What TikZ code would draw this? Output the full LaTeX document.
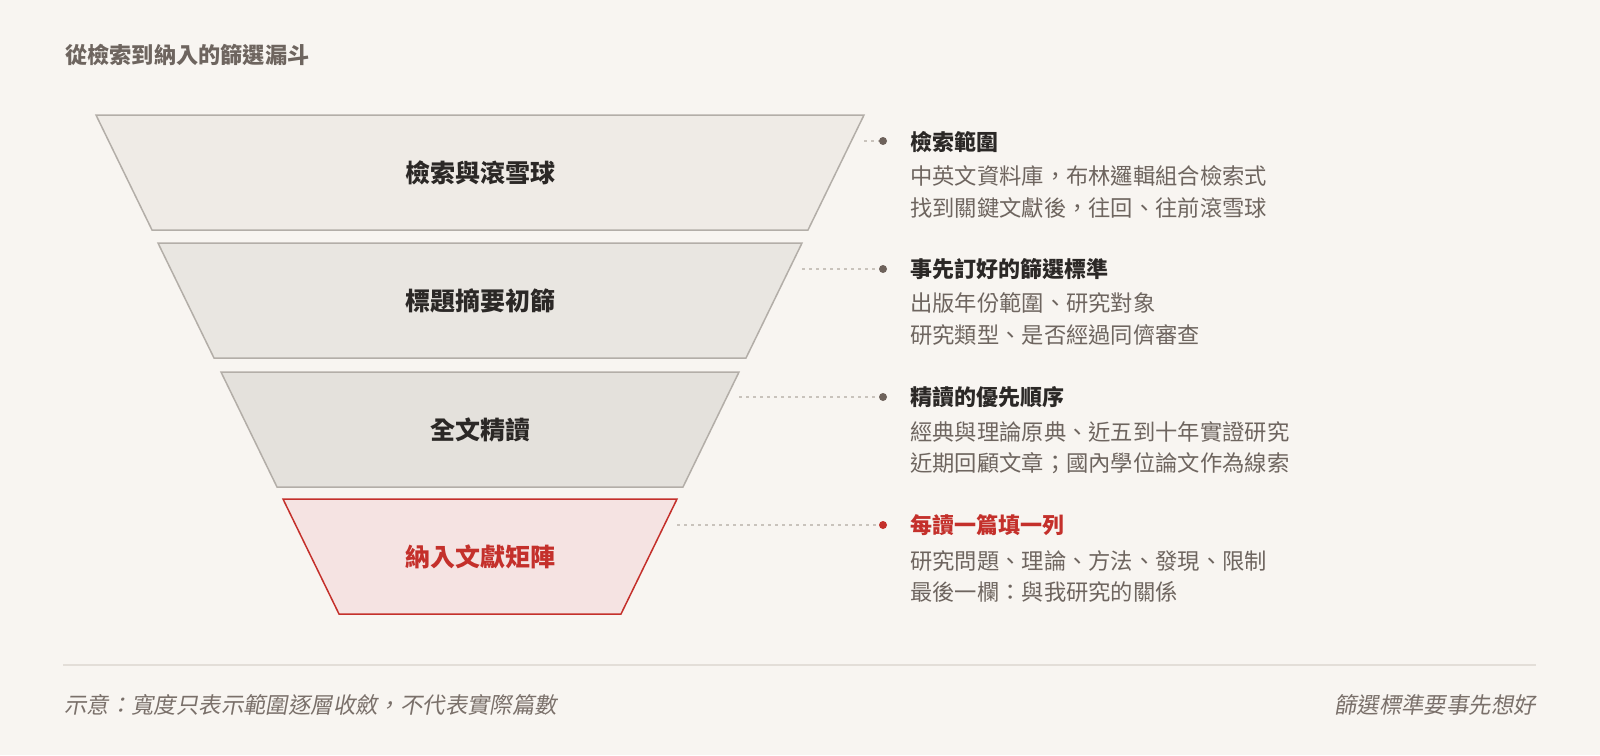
\documentclass[tikz,border=0pt]{standalone}
\usepackage{fontspec}
\setmainfont{Noto Sans CJK TC}
\newfontfamily\slantcjk{Noto Sans CJK TC}[FakeSlant=0.18]
\definecolor{bg}{HTML}{F8F5F1}
\definecolor{fillA}{HTML}{EFEBE6}
\definecolor{fillB}{HTML}{E9E6E1}
\definecolor{fillC}{HTML}{E4E1DC}
\definecolor{fillR}{HTML}{F5E3E2}
\definecolor{edgeG}{HTML}{B3AEA8}
\definecolor{edgeR}{HTML}{C4302B}
\definecolor{dark}{HTML}{2B2826}
\definecolor{body}{HTML}{6E655F}
\definecolor{dotG}{HTML}{6E625B}
\definecolor{dashc}{HTML}{C9C3BC}
\definecolor{rulec}{HTML}{E3DED8}
\definecolor{foot}{HTML}{7A706A}
\tikzset{
  trapG/.style={draw=edgeG, line width=1.5pt, line join=miter},
  trapR/.style={draw=edgeR, fill=fillR, line width=1.5pt, line join=miter},
  flabel/.style={font=\fontsize{25}{28}\selectfont\bfseries, text=dark, inner sep=0pt},
  rlabel/.style={font=\fontsize{25}{28}\selectfont\bfseries, text=edgeR, inner sep=0pt},
  dashline/.style={draw=dashc, line width=1.2pt, dash pattern=on 3pt off 4pt},
  dotnode/.style={circle, fill=dotG, minimum size=8pt, inner sep=0pt},
  dotred/.style={circle, fill=edgeR, minimum size=8pt, inner sep=0pt},
  head/.style={anchor=west, font=\fontsize{22}{26}\selectfont\bfseries, text=dark, inner sep=0pt},
  headred/.style={anchor=west, font=\fontsize{22}{26}\selectfont\bfseries, text=edgeR, inner sep=0pt},
  bodytext/.style={anchor=west, font=\fontsize{22.3}{26}\selectfont, text=body, inner sep=0pt},
  titletext/.style={anchor=west, font=\fontsize{22.2}{26}\selectfont\bfseries, text=body, inner sep=0pt},
  foottext/.style={font=\fontsize{22.4}{26}\selectfont\slantcjk, text=foot, inner sep=0pt}
}
\begin{document}
\begin{tikzpicture}[x=1pt,y=-1pt]
\fill[bg] (0,0) rectangle (1600,755);
\useasboundingbox (0,0) rectangle (1600,755);

\node[titletext] (title) at (65,55) {從檢索到納入的篩選漏斗};

% funnel levels
\draw[trapG, fill=fillA] (96,115) -- (864,115) -- (808,230) -- (152,230) -- cycle;
\node[flabel] (f1) at (480,173) {檢索與滾雪球};
\draw[trapG, fill=fillB] (158,243) -- (802,243) -- (746,358) -- (214,358) -- cycle;
\node[flabel] (f2) at (480,301) {標題摘要初篩};
\draw[trapG, fill=fillC] (221,372) -- (739,372) -- (683,487) -- (277,487) -- cycle;
\node[flabel] (f3) at (480,430) {全文精讀};
\draw[trapR] (283,499) -- (677,499) -- (621,614) -- (339,614) -- cycle;
\node[rlabel] (f4) at (480,557) {納入文獻矩陣};

% connectors
\coordinate (c1) at (864,141);
\coordinate (c2) at (802,269);
\coordinate (c3) at (739,397);
\coordinate (c4) at (677,525);
\node[dotnode] (d1) at (883,141) {};
\node[dotnode] (d2) at (883,269) {};
\node[dotnode] (d3) at (883,397) {};
\node[dotred] (d4) at (883,525) {};
\draw[dashline] (c1) -- (d1);
\draw[dashline] (c2) -- (d2);
\draw[dashline] (c3) -- (d3);
\draw[dashline] (c4) -- (d4);

% annotations
\node[head] (h1) at (910,142) {檢索範圍};
\node[bodytext] (b1a) at (910,176) {中英文資料庫，布林邏輯組合檢索式};
\node[bodytext] (b1b) at (910,208) {找到關鍵文獻後，往回、往前滾雪球};

\node[head] (h2) at (910,269) {事先訂好的篩選標準};
\node[bodytext] (b2a) at (910,303) {出版年份範圍、研究對象};
\node[bodytext] (b2b) at (910,335) {研究類型、是否經過同儕審查};

\node[head] (h3) at (910,397) {精讀的優先順序};
\node[bodytext] (b3a) at (910,432) {經典與理論原典、近五到十年實證研究};
\node[bodytext] (b3b) at (910,463) {近期回顧文章；國內學位論文作為線索};

\node[headred] (h4) at (910,525) {每讀一篇填一列};
\node[bodytext] (b4a) at (910,561) {研究問題、理論、方法、發現、限制};
\node[bodytext] (b4b) at (910,592) {最後一欄：與我研究的關係};

% footer
\draw[rulec, line width=1.5pt] (63,665) -- (1536,665);
\node[foottext, anchor=west] (ft1) at (64,705) {示意：寬度只表示範圍逐層收斂，不代表實際篇數};
\node[foottext, anchor=east] (ft2) at (1536,705) {篩選標準要事先想好};
\end{tikzpicture}
\end{document}
